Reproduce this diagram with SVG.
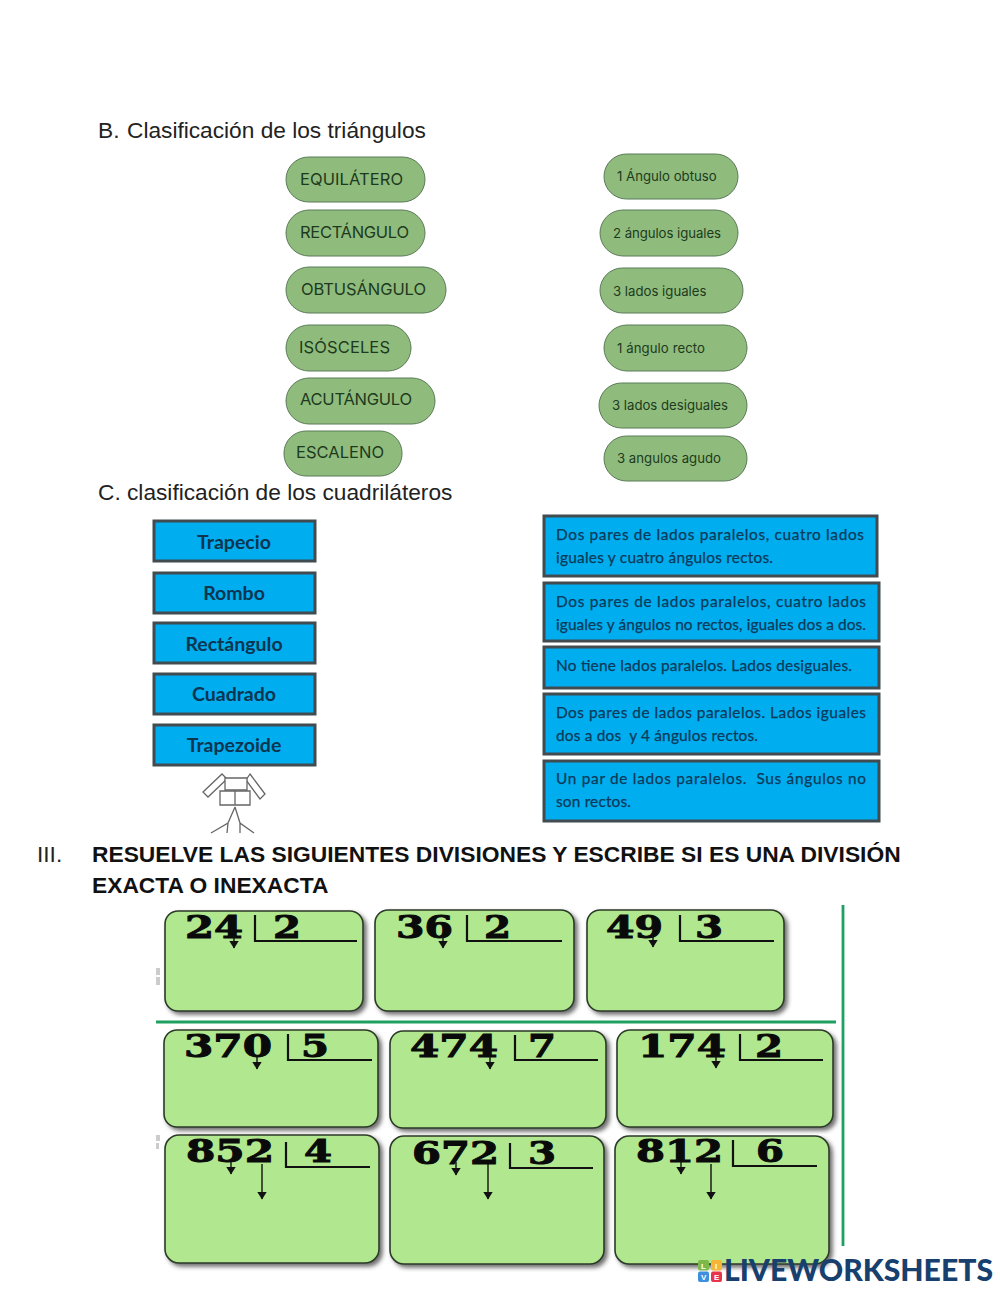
<svg xmlns="http://www.w3.org/2000/svg" width="1000" height="1291" viewBox="0 0 1000 1291">
<defs>
<style>
.h{font-family:"Liberation Sans",Arial,sans-serif;font-size:22.7px;fill:#222}
.b{font-family:"Liberation Sans",Arial,sans-serif;font-size:22.8px;font-weight:bold;fill:#111}
.p{fill:#8fbc7c;stroke:#5a7a58;stroke-width:1}
.t1{font-family:"Inter","Liberation Sans",sans-serif;font-size:16.5px;fill:#1d3a20}
.t2{font-family:"Inter","Liberation Sans",sans-serif;font-size:13.2px;fill:#1d3a20}
.q{fill:#00adef;stroke:#414b50;stroke-width:3}
.q2{fill:#00adef;stroke:#414b50;stroke-width:3}
.s{font-family:"Lato","Open Sans",sans-serif;font-size:19.5px;font-weight:bold;fill:#0b3550;text-anchor:middle}
.l{font-family:"Lato","Open Sans",sans-serif;font-size:15.4px;fill:#0b3a5a;stroke:#0b3a5a;stroke-width:.25}
.g{fill:#b0e78f;stroke:#2c3a28;stroke-width:1.6;filter:url(#sh)}
.n{font-family:"DejaVu Serif","Liberation Serif",serif;font-weight:bold;font-size:32px;fill:#0a0a0a;stroke:#0a0a0a;stroke-width:1}
.ln{fill:none;stroke:#111;stroke-width:2.2}
.ar{fill:none;stroke:#111;stroke-width:1.4;marker-end:url(#ah)}
.sk{fill:#fff;stroke:#666;stroke-width:1.3}
.sl{fill:none;stroke:#666;stroke-width:1.3}
.gl{stroke:#1fa060;stroke-width:2.8;fill:none}
.lt{font-family:"Liberation Sans",sans-serif;font-size:8px;font-weight:bold;fill:#fff}
</style>
<marker id="ah" markerWidth="12" markerHeight="8" refX="6" refY="7.500" orient="0" markerUnits="userSpaceOnUse" viewBox="0 0 12 8"><path d="M1 0H11L6 8Z" fill="#111"/></marker>
<filter id="sh" x="-5%" y="-5%" width="112%" height="112%"><feDropShadow dx="3" dy="3" stdDeviation="2" flood-color="#333" flood-opacity=".7"/></filter>
</defs>
<rect width="1000" height="1291" fill="#fff"/>
<text class="h" x="98" y="138">B.</text><text class="h" x="127" y="138">Clasificación de los triángulos</text>
<g id="n-equilatero"><rect class="p" x="286" y="157" width="139" height="45" rx="22.5"/><text class="t1" x="300" y="185" textLength="103">EQUILÁTERO</text></g>
<g id="n-rectangulo"><rect class="p" x="286" y="210" width="139" height="46" rx="23"/><text class="t1" x="300" y="238" textLength="109">RECTÁNGULO</text></g>
<g id="n-obtusangulo"><rect class="p" x="286" y="267" width="160" height="46" rx="23"/><text class="t1" x="301" y="295" textLength="125">OBTUSÁNGULO</text></g>
<g id="n-isosceles"><rect class="p" x="286" y="325" width="125" height="46" rx="23"/><text class="t1" x="299" y="353" textLength="91">ISÓSCELES</text></g>
<g id="n-acutangulo"><rect class="p" x="286" y="378" width="149" height="46" rx="23"/><text class="t1" x="300" y="405" textLength="112">ACUTÁNGULO</text></g>
<g id="n-escaleno"><rect class="p" x="284" y="431" width="118" height="45" rx="22"/><text class="t1" x="296" y="458" textLength="88">ESCALENO</text></g>
<g id="n-r1"><rect class="p" x="604" y="154" width="134" height="45" rx="22.5"/><text class="t2" x="617" y="181">1 Ángulo obtuso</text></g>
<g id="n-r2"><rect class="p" x="600" y="210" width="138" height="46" rx="23"/><text class="t2" x="613" y="238" textLength="108">2 ángulos iguales</text></g>
<g id="n-r3"><rect class="p" x="600" y="268" width="143" height="45" rx="22.5"/><text class="t2" x="613" y="296">3 lados iguales</text></g>
<g id="n-r4"><rect class="p" x="604" y="325" width="143" height="46" rx="23"/><text class="t2" x="617" y="353" textLength="88">1 ángulo recto</text></g>
<g id="n-r5"><rect class="p" x="599" y="383" width="148" height="45" rx="22.5"/><text class="t2" x="612" y="410" textLength="116">3 lados desiguales</text></g>
<g id="n-r6"><rect class="p" x="604" y="436" width="143" height="45" rx="22.5"/><text class="t2" x="617" y="463" textLength="104">3 angulos agudo</text></g>
<text class="h" x="98" y="500">C. clasificación de los cuadriláteros</text>
<g id="n-trapecio"><rect class="q" x="154" y="521" width="161" height="40"/><text class="s" x="234" y="549">Trapecio</text></g>
<g id="n-rombo"><rect class="q" x="154" y="573" width="161" height="40"/><text class="s" x="234" y="600">Rombo</text></g>
<g id="n-rectangulo2"><rect class="q" x="154" y="623" width="161" height="40"/><text class="s" x="234" y="651">Rectángulo</text></g>
<g id="n-cuadrado"><rect class="q" x="154" y="674" width="161" height="40"/><text class="s" x="234" y="701">Cuadrado</text></g>
<g id="n-trapezoide"><rect class="q" x="154" y="725" width="161" height="40"/><text class="s" x="234" y="752">Trapezoide</text></g>
<g id="n-d1"><rect class="q2" x="544" y="516" width="333" height="60"/><text class="l" x="556" y="540" textLength="308">Dos pares de lados paralelos, cuatro lados</text><text class="l" x="556" y="563" textLength="217">iguales y cuatro ángulos rectos.</text></g>
<g id="n-d2"><rect class="q2" x="544" y="583" width="335" height="58"/><text class="l" x="556" y="607" textLength="310">Dos pares de lados paralelos, cuatro lados</text><text class="l" x="556" y="630" textLength="310">iguales y ángulos no rectos, iguales dos a dos.</text></g>
<g id="n-d3"><rect class="q2" x="544" y="647" width="335" height="41"/><text class="l" x="556" y="671" textLength="296">No tiene lados paralelos. Lados desiguales.</text></g>
<g id="n-d4"><rect class="q2" x="544" y="694" width="335" height="60"/><text class="l" x="556" y="718" textLength="310">Dos pares de lados paralelos. Lados iguales</text><text class="l" x="556" y="741" xml:space="preserve" textLength="202">dos a dos  y 4 ángulos rectos.</text></g>
<g id="n-d5"><rect class="q2" x="544" y="761" width="335" height="60"/><text class="l" x="556" y="784" textLength="310" xml:space="preserve">Un par de lados paralelos.  Sus ángulos no</text><text class="l" x="556" y="807" textLength="75">son rectos.</text></g>
<g id="sketch">
<path class="sk" d="M203 792L222 774L227 779L208 797Z"/>
<path class="sk" d="M250 774L265 794L260 799L246 780Z"/>
<path class="sk" d="M225 778H247V790H225Z"/>
<path class="sk" d="M220 791H250V805H220Z"/>
<path class="sl" d="M235 791V805M235 807L228 823L211 833M228 823L227 833M235 807L240 823L254 833M240 823V833"/>
</g>
<text class="h" x="37" y="862">III.</text>
<text class="b" x="92" y="862">RESUELVE LAS SIGUIENTES DIVISIONES Y ESCRIBE SI ES UNA DIVISIÓN</text>
<text class="b" x="92" y="893">EXACTA O INEXACTA</text>
<path d="M156 968h4v7h-4zM156 977h4v8h-4zM156 1135h4v6h-4zM156 1143h3v6h-3z" fill="#ccc"/>
<g id="d-24"><rect class="g" x="165" y="911" width="198" height="100" rx="13"/><text class="n" x="185" y="938" textLength="58" lengthAdjust="spacingAndGlyphs">24</text><path class="ln" d="M255 915V941H357"/><text class="n" x="273" y="938" textLength="28" lengthAdjust="spacingAndGlyphs">2</text></g>
<g id="d-36"><rect class="g" x="375" y="910" width="199" height="101" rx="13"/><text class="n" x="396" y="938" textLength="57" lengthAdjust="spacingAndGlyphs">36</text><path class="ln" d="M467 915V941H562"/><text class="n" x="484" y="938" textLength="27" lengthAdjust="spacingAndGlyphs">2</text></g>
<g id="d-49"><rect class="g" x="587" y="910" width="197" height="101" rx="13"/><text class="n" x="606" y="938" textLength="57" lengthAdjust="spacingAndGlyphs">49</text><path class="ln" d="M680 915V941H774"/><text class="n" x="695" y="938" textLength="28" lengthAdjust="spacingAndGlyphs">3</text></g>
<g id="d-370"><rect class="g" x="164" y="1030" width="214" height="97" rx="13"/><text class="n" x="184" y="1057" textLength="88" lengthAdjust="spacingAndGlyphs">370</text><path class="ln" d="M288 1034V1060H372"/><text class="n" x="301" y="1057" textLength="28" lengthAdjust="spacingAndGlyphs">5</text></g>
<g id="d-474"><rect class="g" x="390" y="1031" width="216" height="97" rx="13"/><text class="n" x="410" y="1057" textLength="88" lengthAdjust="spacingAndGlyphs">474</text><path class="ln" d="M515 1035V1060H598"/><text class="n" x="528" y="1057" textLength="28" lengthAdjust="spacingAndGlyphs">7</text></g>
<g id="d-174"><rect class="g" x="617" y="1030" width="216" height="97" rx="13"/><text class="n" x="638" y="1057" textLength="88" lengthAdjust="spacingAndGlyphs">174</text><path class="ln" d="M740 1034V1060H823"/><text class="n" x="755" y="1057" textLength="28" lengthAdjust="spacingAndGlyphs">2</text></g>
<g id="d-852"><rect class="g" x="165" y="1135" width="214" height="128" rx="14"/><text class="n" x="186" y="1162" textLength="88" lengthAdjust="spacingAndGlyphs">852</text><path class="ln" d="M286 1142V1167H370"/><text class="n" x="304" y="1162" textLength="28" lengthAdjust="spacingAndGlyphs">4</text></g>
<g id="d-672"><rect class="g" x="390" y="1136" width="214" height="128" rx="14"/><text class="n" x="412" y="1164" textLength="87" lengthAdjust="spacingAndGlyphs">672</text><path class="ln" d="M510 1143V1168H593"/><text class="n" x="528" y="1164" textLength="28" lengthAdjust="spacingAndGlyphs">3</text></g>
<g id="d-812"><rect class="g" x="615" y="1136" width="214" height="128" rx="14"/><text class="n" x="636" y="1162" textLength="87" lengthAdjust="spacingAndGlyphs">812</text><path class="ln" d="M733 1140V1166H817"/><text class="n" x="756" y="1162" textLength="28" lengthAdjust="spacingAndGlyphs">6</text></g>
<g id="connectors">
<path class="ar" d="M234 936V948"/><path class="ar" d="M443 936V948"/><path class="ar" d="M653 936V947"/>
<path class="ar" d="M257 1056V1069"/><path class="ar" d="M490 1056V1069"/><path class="ar" d="M716 1056V1068"/>
<path class="ar" d="M231 1162V1174"/><path class="ar" d="M262 1164V1199"/>
<path class="ar" d="M456 1162V1175"/><path class="ar" d="M488 1164V1199"/>
<path class="ar" d="M681 1162V1174"/><path class="ar" d="M711 1164V1199"/>
</g>
<path class="gl" d="M156 1022H836M843 905V1246"/>
<g id="logo">
<rect x="698" y="1260" width="11" height="10.500" rx="2" fill="#7cb84a"/><rect x="711" y="1260" width="11" height="10.500" rx="2" fill="#f5b638"/><rect x="698" y="1271.500" width="11" height="10.500" rx="2" fill="#3f8fe0"/><rect x="711" y="1271.500" width="11" height="10.500" rx="2" fill="#e8344a"/>
<text class="lt" x="701" y="1268.500">L</text><text class="lt" x="715" y="1268.500">I</text><text class="lt" x="701" y="1280">V</text><text class="lt" x="714" y="1280">E</text>
<text x="724" y="1281" font-family="Lato,Open Sans,sans-serif" font-size="30" font-weight="900" fill="#17406e" textLength="269" lengthAdjust="spacingAndGlyphs">LIVEWORKSHEETS</text>
</g>
</svg>
